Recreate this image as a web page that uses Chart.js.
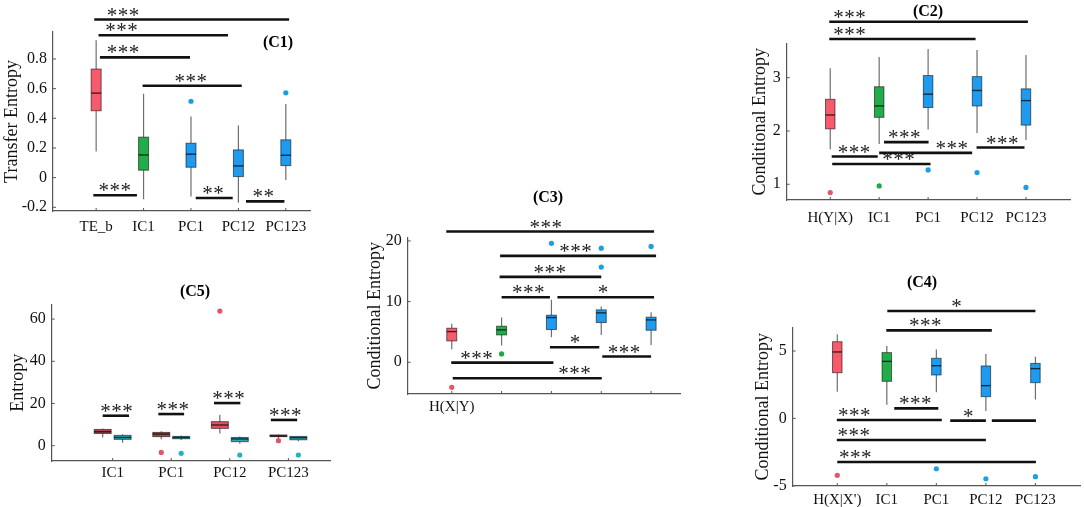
<!DOCTYPE html>
<html>
<head>
<meta charset="utf-8">
<script src="https://cdn.jsdelivr.net/npm/chart.js@4.4.1/dist/chart.umd.min.js"></script>
<style>
body{margin:0;background:#fff;width:1084px;height:507px;overflow:hidden;position:relative}
canvas{position:absolute}
</style>
</head>
<body>
<canvas id="c1"></canvas>
<canvas id="c2"></canvas>
<canvas id="c3"></canvas>
<canvas id="c4"></canvas>
<canvas id="c5"></canvas>
<script>
// ---- C1 : transfer entropy
const c1Labels = ['TE_b','IC1','PC1','PC12','PC123'];
const c1Low  = [0.176,-0.146,-0.128,-0.169,-0.016];
const c1Q1   = [0.451, 0.050, 0.070, 0.007, 0.081];
const c1Med  = [0.570, 0.153, 0.158, 0.079, 0.151];
const c1Q3   = [0.732, 0.273, 0.232, 0.187, 0.255];
const c1High = [0.926, 0.566, 0.412, 0.351, 0.496];
const c1Outliers = [[3,0.515],[5,0.572]];
const c1YTicks = [-0.2,0,0.2,0.4,0.6,0.8];
// from, to, level, stars, stars position
const c1Sig = [
  [0.96,5.07,1.066,'***',1.57],
  [1.05,3.78,0.960,'***',1.54],
  [1.08,2.98,0.811,'***',1.57],
  [1.98,4.07,0.620,'***',3.00],
  [0.94,1.86,-0.119,'***',1.40],
  [3.10,3.88,-0.137,'**',3.47],
  [4.16,4.97,-0.160,'**',4.53]
];

// ---- C2 : H(Y|X)
const c2Labels = ['H(Y|X)','IC1','PC1','PC12','PC123'];
const c2Low  = [1.656,1.756,2.03,1.96,1.83];
const c2Q1   = [2.04,2.256,2.44,2.47,2.11];
const c2Med  = [2.30,2.47,2.69,2.76,2.57];
const c2Q3   = [2.594,2.83,3.04,3.02,2.79];
const c2High = [3.175,3.39,3.54,3.52,3.425];
const c2Outliers = [[1,0.844],[2,0.97],[3,1.27],[4,1.22],[5,0.94]];
const c2YTicks = [1,2,3];
const c2Sig = [
  [0.98,5.04,4.05,'***',1.40],
  [0.98,3.97,3.725,'***',1.40],
  [1.03,1.97,1.52,'***',1.49],
  [1.04,3.05,1.38,'***',2.40],
  [2.10,3.01,1.79,'***',2.52],
  [2.00,3.90,1.59,'***',3.49],
  [3.99,4.97,1.69,'***',4.52]
];

// ---- C3 : H(X|Y)
const c3Labels = ['H(X|Y)','','','',''];
const c3Low  = [2.15,2.75,4.13,4.51,2.86];
const c3Q1   = [3.52,4.51,5.39,6.55,5.28];
const c3Med  = [5.06,5.34,7.37,8.14,6.99];
const c3Q3   = [5.61,5.94,7.76,8.64,7.43];
const c3High = [6.33,7.37,10.29,9.19,8.25];
const c3Outliers = [[1,-4.13],[2,1.37],[3,19.6],[4,15.7],[4,18.8],[5,19.1]];
const c3YTicks = [0,10,20];
const c3Sig = [
  [0.89,5.06,21.55,'***',2.89],
  [1.97,5.10,17.54,'***',3.49],
  [1.96,4.00,14.08,'***',2.97],
  [2.00,2.97,10.72,'***',2.54],
  [3.12,5.06,10.72,'*',4.04],
  [2.97,3.96,2.48,'*',3.48],
  [4.02,5.00,0.94,'***',4.46],
  [0.99,3.04,-0.06,'***',1.50],
  [1.02,4.01,-2.64,'***',3.47]
];

// ---- C4 : H(X|X')
const c4Labels = ["H(X|X')",'IC1','PC1','PC12','PC123'];
const c4Low  = [1.98,1.01,1.93,0.54,1.41];
const c4Q1   = [3.39,2.75,3.22,1.61,2.65];
const c4Med  = [4.93,4.23,3.91,2.43,3.69];
const c4Q3   = [5.69,4.88,4.46,3.89,4.08];
const c4High = [6.24,5.37,5.12,4.78,4.58];
const c4Outliers = [[1,-4.23],[3,-3.74],[4,-4.48],[5,-4.33]];
const c4YTicks = [-5,0,5];
const c4Sig = [
  [2.01,5.00,7.97,'*',3.41],
  [1.99,4.12,6.53,'***',2.78],
  [2.15,3.04,0.74,'***',2.58],
  [0.99,3.11,-0.12,'***',1.35],
  [3.28,4.00,-0.17,'*',3.65],
  [4.12,5.01,-0.17,'',4.50],
  [0.99,4.00,-1.61,'***',1.34],
  [1.00,5.01,-3.24,'***',1.37]
];

// ---- C5 : entropy, two series per group
const c5Labels = ['IC1','PC1','PC12','PC123'];
const c5RedLow  = [3.9,3.0,5.8,3.5];
const c5RedQ1   = [5.8,4.3,8.2,4.3];
const c5RedMed  = [6.6,5.5,9.8,4.6];
const c5RedQ3   = [7.7,6.3,11.4,5.1];
const c5RedHigh = [8.2,6.9,14.7,5.2];
const c5TealLow  = [1.4,2.7,1.1,2.1];
const c5TealQ1   = [3.0,3.3,1.9,2.8];
const c5TealMed  = [3.9,3.9,3.2,3.8];
const c5TealQ3   = [4.9,4.4,3.9,4.4];
const c5TealHigh = [5.4,4.7,4.3,4.6];
const c5RedOutliers = [[2,-3.2],[3,63.8],[4,2.4]];
const c5TealOutliers = [[2,-3.6],[3,-4.4],[4,-4.4]];
const c5YTicks = [0,20,40,60];
const c5Sig = [
  [0.83,1.28,14.2,'***',1.07],
  [1.78,2.22,15.0,'***',2.03],
  [2.73,3.18,20.2,'***',2.98],
  [3.70,4.15,12.2,'***',3.95]
];

const RED = '#f65a6b', GREEN = '#22ad4a', BLUE = '#1e9bef';
const RED_DOT = '#e0566a', GREEN_DOT = '#1ea84a', BLUE_DOT = '#1c9ee0';
const DARKRED = '#ad4350', TEAL = '#27a9b9', TEAL_DOT = '#22b2c2';
const SERIF = '"Liberation Serif", "Times New Roman", serif';
Chart.defaults.font.family = SERIF;

function boxList(low, q1, med, q3, high, colors, shift) {
  return low.map((v, i) => ({pos: i + 1 + (shift || 0), low: v, q1: q1[i], med: med[i], q3: q3[i], high: high[i], color: colors[i]}));
}

function boxPlugin(cfg) {
  return {
    id: 'boxes',
    beforeDatasetsDraw(chart) {
      const {ctx, scales: {x, y}} = chart;
      const half = cfg.boxWidth / 2;
      cfg.boxes.forEach(b => {
        const cx = x.getPixelForValue(b.pos);
        const top = y.getPixelForValue(b.q3), bot = y.getPixelForValue(b.q1);
        ctx.save();
        ctx.strokeStyle = '#6e6e6e';
        ctx.lineWidth = 1.2;
        ctx.beginPath();
        ctx.moveTo(cx, y.getPixelForValue(b.low)); ctx.lineTo(cx, bot);
        ctx.moveTo(cx, top); ctx.lineTo(cx, y.getPixelForValue(b.high));
        ctx.stroke();
        ctx.fillStyle = b.color;
        ctx.fillRect(cx - half, top, half * 2, bot - top);
        ctx.strokeStyle = 'rgba(0,0,0,0.55)';
        ctx.lineWidth = 1;
        ctx.strokeRect(cx - half, top, half * 2, bot - top);
        const m = y.getPixelForValue(b.med);
        ctx.strokeStyle = 'rgba(0,0,0,0.7)';
        ctx.lineWidth = 1.4;
        ctx.beginPath(); ctx.moveTo(cx - half, m); ctx.lineTo(cx + half, m); ctx.stroke();
        ctx.restore();
      });
    },
    afterDraw(chart) {
      const {ctx, chartArea: ca, scales: {x, y}} = chart;
      ctx.save();
      // inward ticks
      ctx.strokeStyle = '#555';
      ctx.lineWidth = 1;
      ctx.beginPath();
      x.ticks.forEach(t => { const px = x.getPixelForValue(t.value); ctx.moveTo(px, ca.bottom); ctx.lineTo(px, ca.bottom - 3); });
      y.ticks.forEach(t => { const py = y.getPixelForValue(t.value); ctx.moveTo(ca.left, py); ctx.lineTo(ca.left + 3, py); });
      ctx.stroke();
      // stars
      ctx.fillStyle = '#222';
      ctx.textAlign = 'center';
      ctx.textBaseline = 'alphabetic';
      ctx.font = '21px ' + SERIF;
      ctx.letterSpacing = '0.5px';
      cfg.sig.forEach(s => {
        if (!s[3]) return;
        ctx.fillText(s[3], x.getPixelForValue(s[4]), y.getPixelForValue(s[2]) + 2);
      });
      ctx.letterSpacing = '0px';
      // panel title
      ctx.font = 'bold 16px ' + SERIF;
      ctx.fillStyle = '#000';
      ctx.textBaseline = 'middle';
      ctx.fillText(cfg.title, cfg.titleX - cfg.g.l, cfg.titleY - cfg.g.t);
      ctx.restore();
    }
  };
}

function makePanel(id, cfg) {
  const g = cfg.g, a = cfg.axis;
  const cv = document.getElementById(id);
  cv.width = g.w; cv.height = g.h;
  cv.style.left = g.l + 'px'; cv.style.top = g.t + 'px';
  const datasets = [];
  cfg.sig.forEach(s => datasets.push({
    data: [{x: s[0], y: s[2]}, {x: s[1], y: s[2]}],
    showLine: true, borderColor: '#111', borderWidth: 2.6, pointRadius: 0, clip: false
  }));
  cfg.outliers.forEach(o => datasets.push({
    data: [{x: o.x, y: o.y}], pointRadius: 2.6, backgroundColor: o.color, borderWidth: 0, clip: false
  }));
  new Chart(cv, {
    type: 'scatter',
    data: {datasets},
    options: {
      responsive: false, animation: false, events: [],
      layout: {padding: {left: 0, top: a.y0 - g.t, right: g.l + g.w - a.x1, bottom: 0}},
      plugins: {legend: {display: false}, tooltip: {enabled: false}},
      scales: {
        x: {
          type: 'linear', min: cfg.xMin, max: cfg.xMax,
          afterFit: s => { s.height = g.t + g.h - a.y1; },
          afterBuildTicks: s => { s.ticks = cfg.labels.map((_, i) => ({value: i + 1})); },
          ticks: {callback: (v, i) => cfg.labels[i], autoSkip: false, maxRotation: 0, color: '#111', font: {size: 15}, padding: cfg.xPad},
          grid: {display: false, drawTicks: false},
          border: {color: '#555', width: 1.2}
        },
        y: {
          type: 'linear', min: cfg.yMin, max: cfg.yMax,
          afterFit: s => { s.width = a.x0 - g.l; },
          afterBuildTicks: s => { s.ticks = cfg.yTicks.map(v => ({value: v})); },
          ticks: {callback: v => String(v), color: '#111', font: {size: 16}, padding: 6},
          grid: {display: false, drawTicks: false},
          border: {color: '#555', width: 1.2},
          title: {display: true, text: cfg.yTitle, color: '#111', font: {size: 18}, padding: {top: 1, bottom: 0}}
        }
      }
    },
    plugins: [boxPlugin(cfg)]
  });
}

function dots(list, color, shift) {
  return list.map(o => ({x: o[0] + (shift || 0), y: o[1], color}));
}

const catDots = [RED_DOT, GREEN_DOT, BLUE_DOT, BLUE_DOT, BLUE_DOT];
const catBoxes = [RED, GREEN, BLUE, BLUE, BLUE];

makePanel('c1', {
  g: {l: 0, t: 0, w: 330, h: 240}, axis: {x0: 53, y0: 32, x1: 310, y1: 211},
  xMin: 0.09, xMax: 5.51, yMin: -0.225, yMax: 0.982, xPad: 7,
  labels: c1Labels, yTicks: c1YTicks, yTitle: 'Transfer Entropy',
  title: '(C1)', titleX: 278, titleY: 43, boxWidth: 10,
  boxes: boxList(c1Low, c1Q1, c1Med, c1Q3, c1High, catBoxes),
  outliers: dots(c1Outliers, BLUE_DOT), sig: c1Sig
});

makePanel('c2', {
  g: {l: 748, t: 0, w: 336, h: 240}, axis: {x0: 786.7, y0: 43.3, x1: 1070, y1: 200},
  xMin: 0.11, xMax: 5.9, yMin: 0.705, yMax: 3.645, xPad: 9,
  labels: c2Labels, yTicks: c2YTicks, yTitle: 'Conditional Entropy',
  title: '(C2)', titleX: 928, titleY: 12, boxWidth: 9.5,
  boxes: boxList(c2Low, c2Q1, c2Med, c2Q3, c2High, catBoxes),
  outliers: c2Outliers.map(o => ({x: o[0], y: o[1], color: catDots[o[0] - 1]})),
  sig: c2Sig
});

makePanel('c3', {
  g: {l: 363, t: 180, w: 327, h: 240}, axis: {x0: 407.7, y0: 237.3, x1: 680, y1: 394},
  xMin: 0.116, xMax: 5.58, yMin: -5.23, yMax: 20.6, xPad: 4,
  labels: c3Labels, yTicks: c3YTicks, yTitle: 'Conditional Entropy',
  title: '(C3)', titleX: 548, titleY: 198, boxWidth: 10,
  boxes: boxList(c3Low, c3Q1, c3Med, c3Q3, c3High, catBoxes),
  outliers: c3Outliers.map(o => ({x: o[0], y: o[1], color: catDots[o[0] - 1]})),
  sig: c3Sig
});

makePanel('c4', {
  g: {l: 751, t: 260, w: 333, h: 247}, axis: {x0: 792.7, y0: 327.3, x1: 1081.7, y1: 486},
  xMin: 0.10, xMax: 5.9, yMin: -5.02, yMax: 6.76, xPad: 5,
  labels: c4Labels, yTicks: c4YTicks, yTitle: 'Conditional Entropy',
  title: '(C4)', titleX: 922, titleY: 283, boxWidth: 9.5,
  boxes: boxList(c4Low, c4Q1, c4Med, c4Q3, c4High, catBoxes),
  outliers: c4Outliers.map(o => ({x: o[0], y: o[1], color: catDots[o[0] - 1]})),
  sig: c4Sig
});

makePanel('c5', {
  g: {l: 6, t: 270, w: 334, h: 230}, axis: {x0: 51.7, y0: 304.3, x1: 330, y1: 461},
  xMin: -0.04, xMax: 4.71, yMin: -7.25, yMax: 67, xPad: 3,
  labels: c5Labels, yTicks: c5YTicks, yTitle: 'Entropy',
  title: '(C5)', titleX: 195, titleY: 292, boxWidth: 17,
  boxes: boxList(c5RedLow, c5RedQ1, c5RedMed, c5RedQ3, c5RedHigh, [DARKRED, DARKRED, '#e3525f', DARKRED], -0.17)
    .concat(boxList(c5TealLow, c5TealQ1, c5TealMed, c5TealQ3, c5TealHigh, [TEAL, TEAL, TEAL, TEAL], 0.17)),
  outliers: dots(c5RedOutliers, RED_DOT, -0.17).concat(dots(c5TealOutliers, TEAL_DOT, 0.17)),
  sig: c5Sig
});
</script>
</body>
</html>
